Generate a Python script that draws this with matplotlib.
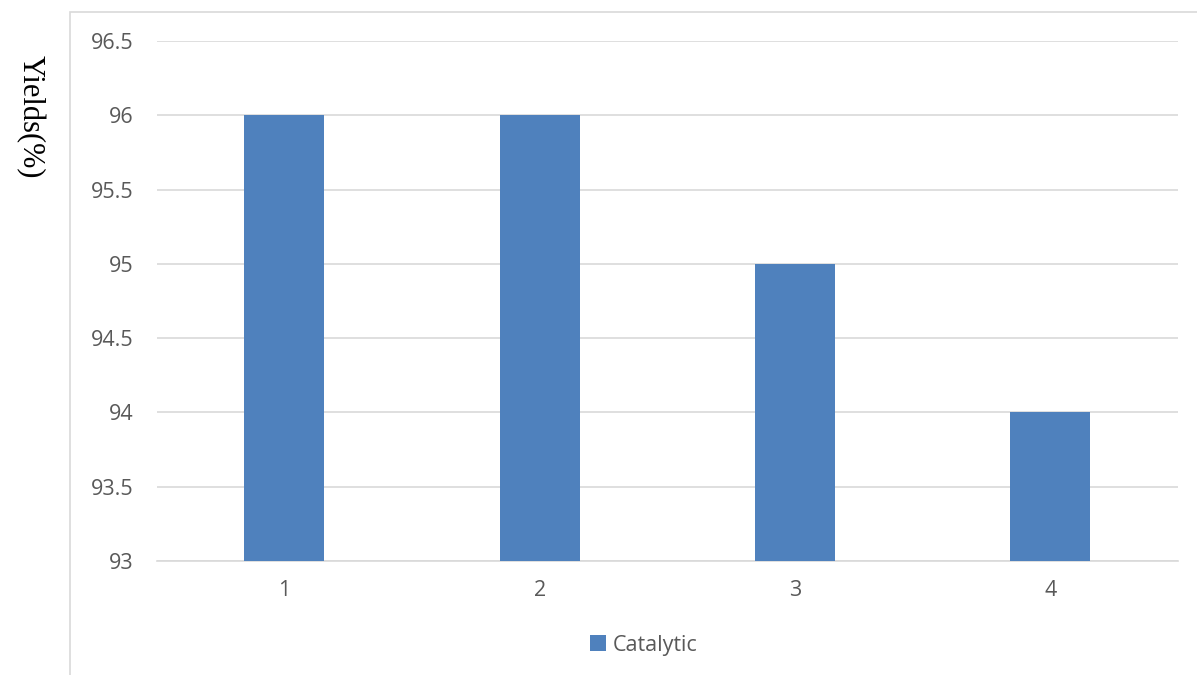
import matplotlib.pyplot as plt
from matplotlib.patches import Rectangle

# catalyst reuse runs and yields
runs = ['1', '2', '3', '4']
yields = [96, 96, 95, 94]
yticks = [93, 93.5, 94, 94.5, 95, 95.5, 96, 96.5]

fig = plt.figure(figsize=(11.97, 6.75), dpi=100)
ax = fig.add_axes([0.131, 0.169, 0.853, 0.770])

# outer chart frame (partly off the picture)
fig.patches.append(Rectangle((70 / 1197, -0.05), 1.2, 1 - 12 / 675 + 0.05,
                             transform=fig.transFigure, fill=False,
                             edgecolor='#d9d9d9', linewidth=1.2))

x = range(len(runs))
ax.bar(x, yields, width=0.313, color='#4f81bd', label='Catalytic', zorder=3)
ax.set_xlim(-0.5, 3.5)
ax.set_ylim(93, 96.5)
ax.set_yticks(yticks)
ax.set_yticklabels(['93', '93.5', '94', '94.5', '95', '95.5', '96', '96.5'])
ax.set_xticks(list(x))
ax.set_xticklabels(runs)
ax.grid(axis='y', color='#d9d9d9', linewidth=1.2, zorder=0)
for s in ['top', 'right', 'left']:
    ax.spines[s].set_visible(False)
ax.spines['bottom'].set_color('#d9d9d9')
ax.spines['bottom'].set_linewidth(1.2)
ax.tick_params(length=0, labelsize=15.5, labelcolor='#595959')
ax.tick_params(axis='y', pad=17)
ax.tick_params(axis='x', pad=14)
for t in ax.get_xticklabels() + ax.get_yticklabels():
    t.set_fontfamily('Open Sans')

fig.text(30 / 1197, 1 - 117 / 675, 'Yields(%)', rotation=270, ha='center',
         va='center', fontsize=22, family='Liberation Serif')

leg = ax.legend(loc='center', bbox_to_anchor=(643.5 / 1197, 1 - 645 / 675),
                bbox_transform=fig.transFigure, frameon=False,
                prop={'family': 'Open Sans', 'size': 15.5},
                handlelength=0.75, handleheight=0.75, handletextpad=0.3)
for t in leg.get_texts():
    t.set_color('#595959')

fig.savefig('out.png', dpi=100)
